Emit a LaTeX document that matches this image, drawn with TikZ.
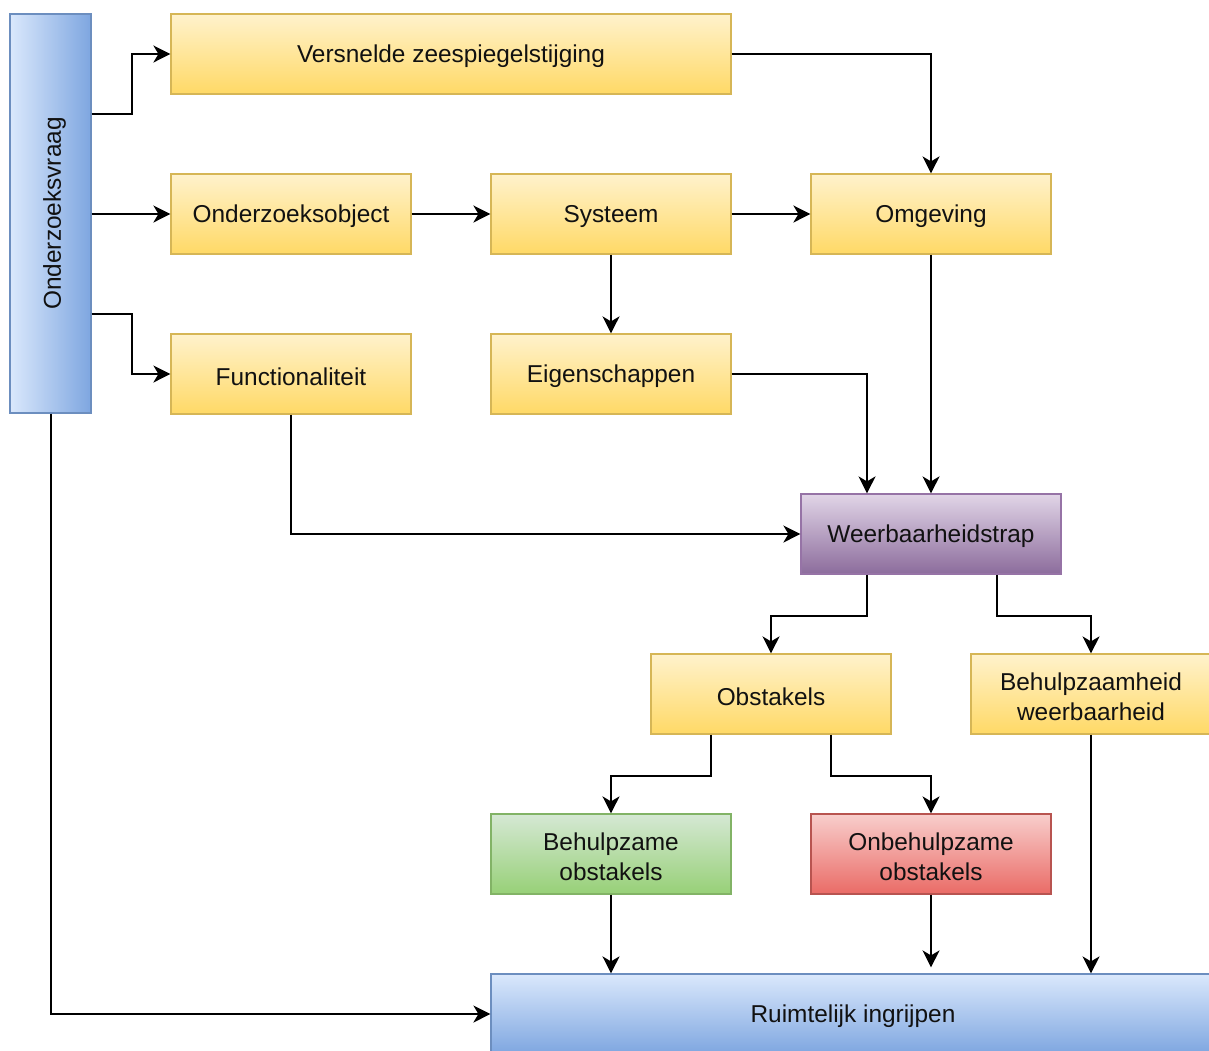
\documentclass[tikz,border=0pt]{standalone}
\usepackage{fontspec}
\setmainfont{Liberation Sans}
\usetikzlibrary{arrows.meta,calc}

\definecolor{yelTop}{HTML}{FFF2CC}
\definecolor{yelBot}{HTML}{FFD966}
\definecolor{yelLine}{HTML}{D6B656}
\definecolor{bluTop}{HTML}{DAE8FC}
\definecolor{bluBot}{HTML}{7EA6E0}
\definecolor{bluLine}{HTML}{6C8EBF}
\definecolor{purTop}{HTML}{E1D5E7}
\definecolor{purBot}{HTML}{8C6C9C}
\definecolor{purLine}{HTML}{9673A6}
\definecolor{grnTop}{HTML}{D5E8D4}
\definecolor{grnBot}{HTML}{97D077}
\definecolor{grnLine}{HTML}{82B366}
\definecolor{redTop}{HTML}{F8CECC}
\definecolor{redBot}{HTML}{EA6B66}
\definecolor{redLine}{HTML}{B85450}
\definecolor{txt}{HTML}{111111}

% set a line slightly lower while keeping its measured size
\newcommand\dropline[1]{\raisebox{-2.5pt}[\height][\depth]{#1}}

\tikzset{
  base/.style={draw, line width=1.2pt, inner sep=0pt, align=center,
    minimum width=240pt, minimum height=80pt, text=txt,
    font=\fontsize{24.4}{30}\selectfont},
  yelbox/.style={base, draw=yelLine, top color=yelTop, bottom color=yelBot},
  blubox/.style={base, draw=bluLine, top color=bluTop, bottom color=bluBot},
  purbox/.style={base, draw=purLine, top color=purTop, bottom color=purBot},
  grnbox/.style={base, draw=grnLine, top color=grnTop, bottom color=grnBot},
  redbox/.style={base, draw=redLine, top color=redTop, bottom color=redBot},
  sidebox/.style={draw=bluLine, line width=1.2pt, inner sep=0pt,
    minimum width=81pt, minimum height=399pt,
    left color=bluTop, right color=bluBot},
  vlabel/.style={rotate=90, text=txt, inner sep=0pt,
    font=\fontsize{24.4}{30}\selectfont},
  arr/.style={line width=2pt, draw=black,
    -{Stealth[length=17pt,width=17pt,inset=5pt]}}
}

\begin{document}
\begin{tikzpicture}[x=1pt,y=-1pt]
\useasboundingbox (0,0) rectangle (1209,1050);
\clip (0,0) rectangle (1209,1050);
\fill[white] (0,0) rectangle (1209,1050);

% boxes
\node[sidebox] (ov) at (50.5,213.5) {};
\node[vlabel] (ovt) at ([xshift=4pt]ov.center) {Onderzoeksvraag};

\node[yelbox, minimum width=560pt] (vz) at (451,54) {\dropline{Versnelde zeespiegelstijging}};
\node[yelbox] (oo) at (291,214) {\dropline{Onderzoeksobject}};
\node[yelbox] (sy) at (611,214) {\dropline{Systeem}};
\node[yelbox] (om) at (931,214) {\dropline{Omgeving}};
\node[yelbox] (fu) at (291,374) {\dropline{Functionaliteit}};
\node[yelbox] (ei) at (611,374) {\dropline{Eigenschappen}};
\node[purbox, minimum width=260pt] (wt) at (931,534) {\dropline{Weerbaarheidstrap}};
\node[yelbox] (ob) at (771,694) {\dropline{Obstakels}};
\node[yelbox] (bw) at (1091,694) {\dropline{Behulpzaamheid}\\\dropline{weerbaarheid}};
\node[grnbox] (bo) at (611,854) {\dropline{Behulpzame}\\\dropline{obstakels}};
\node[redbox] (uo) at (931,854) {\dropline{Onbehulpzame}\\\dropline{obstakels}};
\node[blubox, minimum width=724pt] (ri) at (853,1014) {\dropline{Ruimtelijk ingrijpen}};

% connectors
\draw[arr] ([yshift=100pt]ov.east) -- ++(40,0) |- (vz.west);
\draw[arr] (ov.east |- oo.west) -- (oo.west);
\draw[arr] ([yshift=-100pt]ov.east) -- ++(40,0) |- (fu.west);
\draw[arr] (oo.east) -- (sy.west);
\draw[arr] (sy.east) -- (om.west);
\draw[arr] (sy.south) -- (ei.north);
\draw[arr] (vz.east) -| (om.north);
\draw[arr] (om.south) -- (wt.north);
\draw[arr] (ei.east) -| ([xshift=-64pt]wt.north);
\draw[arr] (fu.south) |- (wt.west);
\draw[arr] ([xshift=-64pt]wt.south) -- ++(0,41) -| (ob.north);
\draw[arr] ([xshift=66pt]wt.south) -- ++(0,41) -| (bw.north);
\draw[arr] ([xshift=-60pt]ob.south) -- ++(0,41) -| (bo.north);
\draw[arr] ([xshift=60pt]ob.south) -- ++(0,41) -| (uo.north);
\draw[arr] (bo.south) -- (bo.south |- ri.north);
\coordinate (uoend) at ($(uo.south |- ri.north)+(0,-6)$);
\draw[arr] (uo.south) -- (uoend);
\draw[arr] (bw.south) -- (bw.south |- ri.north);
\draw[arr] (ov.south) |- (ri.west);
\end{tikzpicture}
\end{document}
